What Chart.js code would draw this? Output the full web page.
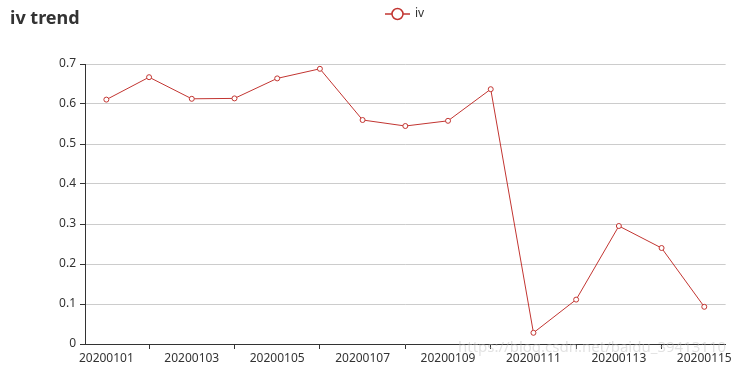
<!DOCTYPE html>
<html>
<head>
<meta charset="utf-8">
<script src="https://cdn.jsdelivr.net/npm/chart.js@4"></script>
<style>
  html, body { margin: 0; padding: 0; background: #fff; }
  #wrap { width: 734px; height: 367px; }
</style>
</head>
<body>
<div id="wrap"><canvas id="chart"></canvas></div>
<script>
// dados
const dias = ['20200101', '20200102', '20200103', '20200104', '20200105', '20200106', '20200107', '20200108',
              '20200109', '20200110', '20200111', '20200112', '20200113', '20200114', '20200115'];
const ivValores = [0.611, 0.667, 0.613, 0.614, 0.664, 0.688, 0.560, 0.545, 0.558, 0.637, 0.028, 0.111, 0.295, 0.240, 0.093];
const yTicks = [0, 0.1, 0.2, 0.3, 0.4, 0.5, 0.6, 0.7];

const corLinha = '#c23531';
const fonte = '"Noto Sans", "Open Sans", sans-serif';

// titulo + legenda desenhados à mão (estilo echarts)
const extras = {
    id: 'extras',
    afterDraw(chart) {
        const ctx = chart.ctx;
        ctx.save();
        ctx.fillStyle = '#333';
        ctx.font = 'bold 18px ' + fonte;
        ctx.textBaseline = 'alphabetic';
        ctx.textAlign = 'left';
        ctx.fillText('iv trend', 10, 24);

        // legenda
        ctx.strokeStyle = corLinha;
        ctx.lineWidth = 1.5;
        ctx.beginPath();
        ctx.moveTo(385, 14);
        ctx.lineTo(410, 14);
        ctx.stroke();
        ctx.beginPath();
        ctx.arc(397.5, 14, 5.5, 0, Math.PI * 2);
        ctx.fillStyle = '#fff';
        ctx.fill();
        ctx.stroke();
        ctx.fillStyle = '#333';
        ctx.font = '12px ' + fonte;
        ctx.textBaseline = 'middle';
        ctx.fillText('iv', 415, 14);

        // marca d'agua
        ctx.font = '15px ' + fonte;
        ctx.fillStyle = 'rgba(190,190,190,0.45)';
        ctx.textBaseline = 'middle';
        ctx.fillText('https://blog.csdn.net/baidu_39413110', 458, 348);
        ctx.restore();
    }
};

new Chart(document.getElementById('chart'), {
    type: 'line',
    data: {
        labels: dias,
        datasets: [{
            label: 'iv',
            data: ivValores,
            borderColor: corLinha,
            borderWidth: 1,
            pointRadius: 2.5,
            pointBackgroundColor: '#fff',
            pointBorderColor: corLinha,
            pointBorderWidth: 1,
            tension: 0,
            fill: false
        }]
    },
    options: {
        responsive: true,
        maintainAspectRatio: false,
        animation: false,
        layout: { padding: { top: 64, right: 8, left: 0, bottom: 0 } },
        plugins: {
            legend: { display: false },
            title: { display: false },
            tooltip: { enabled: false }
        },
        scales: {
            x: {
                offset: true,
                afterFit(scale) { scale.height = 23; },
                grid: {
                    drawOnChartArea: false,
                    drawTicks: true,
                    tickLength: 5,
                    tickColor: c => (c.index % 2 === 1 ? '#333' : 'rgba(0,0,0,0)')
                },
                border: { color: '#333', width: 1 },
                ticks: {
                    autoSkip: false,
                    maxRotation: 0,
                    padding: 2,
                    color: '#333',
                    font: { size: 12, family: fonte },
                    callback: (v, i) => (i % 2 === 0 ? dias[i] : '')
                }
            },
            y: {
                min: 0,
                max: 0.7,
                afterFit(scale) { scale.width = 85; },
                afterBuildTicks(scale) { scale.ticks = yTicks.map(v => ({ value: v })); },
                grid: {
                    color: '#ccc',
                    tickColor: '#333',
                    tickLength: 5,
                    lineWidth: 1
                },
                border: { color: '#333', width: 1 },
                ticks: {
                    padding: 4,
                    color: '#333',
                    font: { size: 12, family: fonte },
                    callback: v => String(Math.round(v * 10) / 10)
                }
            }
        }
    },
    plugins: [extras]
});
</script>
</body>
</html>
